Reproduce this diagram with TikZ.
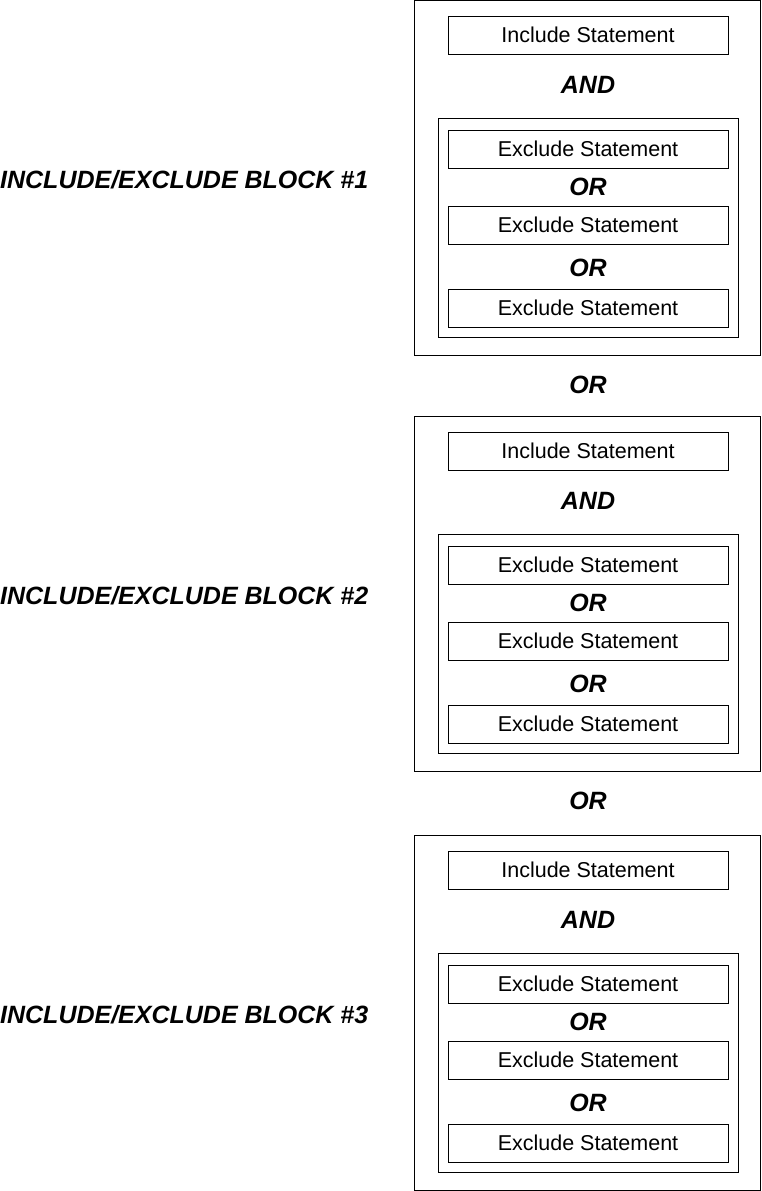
\documentclass[tikz,border=0pt]{standalone}
\usepackage{fontspec}
\setmainfont{Liberation Sans}
\usetikzlibrary{positioning}
\tikzset{
  stmt/.style={draw, line width=0.8pt, minimum width=280pt, minimum height=38pt, inner sep=0pt, font=\fontsize{21.5}{24}\selectfont},
  oper/.style={font=\fontsize{25}{28}\selectfont\bfseries\itshape},
  blocklabel/.style={anchor=west, inner sep=0pt, font=\fontsize{25}{28}\selectfont\bfseries\itshape},
  frame/.style={draw, line width=0.8pt}
}
\begin{document}
\begin{tikzpicture}[x=1pt, y=-1pt]
	\useasboundingbox (0,0) rectangle (761,1191);
	\foreach \b/\off in {1/0, 2/416, 3/835} {
		\begin{scope}[yshift=-\off pt]
		\draw [frame] (414,0) rectangle (760,355);
		\draw [frame] (438,118) rectangle (738,337);
		\node [stmt] (inc\b) at (588,35) {Include Statement};
		\node [oper] (and\b) at (588,85) {AND};
		\node [stmt] (exa\b) at (588,149) {Exclude Statement};
		\node [oper] (ora\b) at (588,187) {OR};
		\node [stmt] (exb\b) at (588,225) {Exclude Statement};
		\node [oper] (orb\b) at (588,268) {OR};
		\node [stmt] (exc\b) at (588,308) {Exclude Statement};
		\node [blocklabel] (lbl\b) at (0,180) {INCLUDE/EXCLUDE BLOCK \#\b};
		\end{scope}
	}
	\node [oper] (or12) at (588,385) {OR};
	\node [oper] (or23) at (588,801) {OR};
\end{tikzpicture}
\end{document}
